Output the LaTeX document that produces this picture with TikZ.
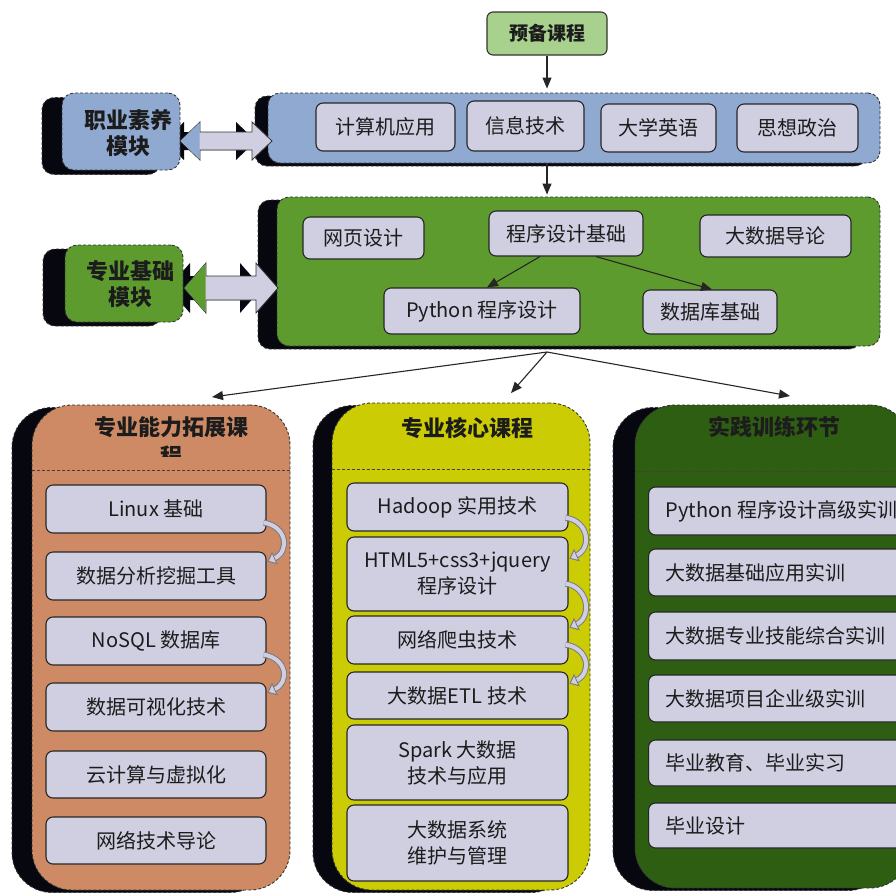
\documentclass[tikz,border=0pt]{standalone}
\usepackage{fontspec}
\setmainfont{Noto Sans CJK SC}
\usetikzlibrary{arrows.meta,calc}
\definecolor{blueM}{HTML}{8FA9D1}
\definecolor{greenM}{HTML}{5E9B2E}
\definecolor{lav}{HTML}{CFCFE1}
\definecolor{orangeM}{HTML}{CD8A64}
\definecolor{yellowM}{HTML}{CCCC05}
\definecolor{dgreenM}{HTML}{2E5E12}
\definecolor{prepc}{HTML}{A9D18E}
\definecolor{shadowc}{HTML}{07070F}
\definecolor{txt}{HTML}{1C1C1C}
\definecolor{curvedge}{HTML}{7A7A80}
\newcommand\dblarrowshape[7]{\path[#7] (#1,#3) -- (#1+#4,#3-#6) -- (#1+#4,#3-#5) -- (#2-#4,#3-#5) -- (#2-#4,#3-#6) -- (#2,#3) -- (#2-#4,#3+#6) -- (#2-#4,#3+#5) -- (#1+#4,#3+#5) -- (#1+#4,#3+#6) -- cycle;}
\begin{document}
\begin{tikzpicture}[x=1pt,y=-1pt,
  box/.style={draw=black!85, line width=1.1pt, fill=lav, rounded corners=7pt, inner sep=2pt, align=center, font=\fontsize{20}{26}\selectfont, text=txt},
  boxL/.style={box, anchor=west, text width=250pt, inner xsep=17pt, align=left, minimum height=48pt},
  mod/.style={draw=black!80, dash pattern=on 3pt off 2pt, line width=0.9pt, rounded corners=12pt, inner sep=0pt},
  shad/.style={mod, fill=shadowc},
  col/.style={mod, rounded corners=40pt},
  colshad/.style={col, fill=shadowc},
  hdr/.style={font=\bfseries\fontsize{22}{26}\selectfont, text=txt, align=center},
  arr/.style={-{Triangle[length=11pt,width=9pt]}, line width=1.1pt, draw=black!85},
  curv/.style={line width=4pt, draw=lav, -{Triangle[length=8pt,width=13pt,fill=lav,color=curvedge,line width=0.8pt]},
     preaction={draw=curvedge, line width=6pt, -{Triangle[length=8pt,width=13pt,color=curvedge]}}},
  divider/.style={draw=black!75, dash pattern=on 3pt off 2pt, line width=0.9pt}
]
\useasboundingbox (0,0) rectangle (896,895);

% ---------- top ----------
\node[draw=black!80, line width=1.1pt, fill=prepc, rounded corners=6pt, minimum width=120pt, minimum height=43pt, font=\bfseries\fontsize{19}{24}\selectfont, text=txt] (prep) at (547,33.5) {预备课程};

% blue module
\node[shad, minimum width=612pt, minimum height=70pt] (blueMs) at (561,131) {};
\node[mod, fill=blueM, minimum width=612pt, minimum height=70pt] (blueM) at (574,128) {};
\node[box, minimum width=139pt, minimum height=48pt] (b1) at (385.5,127) {计算机应用};
\node[box, minimum width=117pt, minimum height=50pt] (b2) at (525.5,126) {信息技术};
\node[box, minimum width=115pt, minimum height=48pt] (b3) at (658.5,128) {大学英语};
\node[box, minimum width=121pt, minimum height=48pt] (b4) at (797.5,128) {思想政治};

% green module
\node[shad, minimum width=603pt, minimum height=149pt] (greenMs) at (559.5,274.5) {};
\node[mod, fill=greenM, minimum width=603pt, minimum height=149pt] (greenM) at (578.5,271.5) {};
\node[box, minimum width=121pt, minimum height=42pt] (g1) at (363.5,238) {网页设计};
\node[box, minimum width=154pt, minimum height=45pt] (g2) at (566,233.5) {程序设计基础};
\node[box, minimum width=151pt, minimum height=42pt] (g3) at (775.5,236) {大数据导论};
\node[box, minimum width=196pt, minimum height=46pt] (g4) at (482,311) {Python 程序设计};
\node[box, minimum width=134pt, minimum height=44pt] (g5) at (710,312) {数据库基础};
\draw[arr] ($(g2.south)+(-26,0)$) -- ($(g4.north)+(5,0)$);
\draw[arr] ($(g2.south)+(30,0)$) -- ($(g5.north)+(2,0)$);

\draw[arr] (prep.south) -- ([yshift=4pt]prep.south |- blueM.north);
\draw[arr] (prep.south |- blueM.south) -- ([yshift=2pt]prep.south |- greenM.north);

% double arrows shadows
\dblarrowshape{164}{256}{141}{20}{9}{19}{fill=shadowc}
\dblarrowshape{168}{262}{288}{22}{12}{25}{fill=shadowc}

% side modules
\node[shad, minimum width=118pt, minimum height=77pt] (zysys) at (101,136) {};
\node[mod, fill=blueM, minimum width=118pt, minimum height=77pt] (zysy) at (121,131.5) {};
\node[hdr] (zysyT) at (128,133) {职业素养\\模块};
\node[shad, minimum width=118pt, minimum height=77pt] (zyjcs) at (102,287.5) {};
\node[mod, fill=greenM, minimum width=118pt, minimum height=77pt] (zyjc) at (124,283.5) {};
\node[hdr] (zyjcT) at (130,284) {专业基础\\模块};

% double arrows
\dblarrowshape{180}{272}{141}{20}{9}{19}{fill=lav, draw=black!80, line width=0.8pt}
\path[fill=blueM] (180.6,141) -- (199.6,122.6) -- (199.6,159.4) -- cycle;
\dblarrowshape{184}{278}{288}{22}{12}{25}{fill=lav, draw=black!80, line width=0.8pt}
\path[fill=greenM] (184.6,288) -- (205.6,263.6) -- (205.6,312.4) -- cycle;

% ---------- three arrows ----------
\coordinate (hub) at (547,352);
\coordinate (t1) at (212,397);
\coordinate (t2) at (511,393);
\coordinate (t3) at (790,396);
\draw[arr] (hub) -- (t1);
\draw[arr] (hub) -- (t2);
\draw[arr] (hub) -- (t3);

% ---------- column 1 ----------
\node[colshad, minimum width=258pt, minimum height=485pt] (c1s) at (141,650) {};
\node[col, fill=orangeM, minimum width=258pt, minimum height=485pt] (c1) at (161,647.5) {};
\begin{scope}
\clip (30,400) rectangle (300,456);
\node[hdr, font=\bfseries\fontsize{22}{29}\selectfont] (c1h) at (171,442) {专业能力拓展课\\程};
\end{scope}
\draw[divider] (c1.west |- 0,470) -- (c1.east |- 0,470);
\node[box, minimum width=220pt, minimum height=48pt] (p1) at (156,509) {Linux 基础};
\node[box, minimum width=220pt, minimum height=48pt] (p2) at (156,576) {数据分析挖掘工具};
\node[box, minimum width=220pt, minimum height=48pt] (p3) at (156,641) {NoSQL 数据库};
\node[box, minimum width=220pt, minimum height=48pt] (p4) at (156,707) {数据可视化技术};
\node[box, minimum width=220pt, minimum height=47pt] (p5) at (156,774.5) {云计算与虚拟化};
\node[box, minimum width=220pt, minimum height=47pt] (p6) at (156,840.5) {网络技术导论};
\draw[curv] ($(p1.south east)+(-3,-11)$) .. controls +(24,4) and +(22,-10) .. ($(p2.north east)+(1,10)$);
\draw[curv] ($(p3.south east)+(-3,-11)$) .. controls +(24,4) and +(22,-10) .. ($(p4.north east)+(1,10)$);

% ---------- column 2 ----------
\node[colshad, minimum width=258pt, minimum height=487pt] (c2s) at (442,649) {};
\node[col, fill=yellowM, minimum width=258pt, minimum height=487pt] (c2) at (461,646.5) {};
\node[hdr] (c2h) at (467,428) {专业核心课程};
\draw[divider] (c2.west |- 0,469) -- (c2.east |- 0,469);
\node[box, minimum width=221pt, minimum height=48pt] (k1) at (457.5,507) {Hadoop 实用技术};
\node[box, minimum width=221pt, minimum height=74pt] (k2) at (457.5,574) {HTML5+css3+jquery\\程序设计};
\node[box, minimum width=221pt, minimum height=48pt] (k3) at (457.5,640) {网络爬虫技术};
\node[box, minimum width=221pt, minimum height=47pt] (k4) at (457.5,695.5) {大数据ETL 技术};
\node[box, minimum width=221pt, minimum height=75pt] (k5) at (457.5,762.5) {Spark 大数据\\技术与应用};
\node[box, minimum width=221pt, minimum height=76pt] (k6) at (457.5,843) {大数据系统\\维护与管理};
\draw[curv] ($(k1.south east)+(-3,-14)$) .. controls +(24,4) and +(22,-10) .. ($(k2.north east)+(1,22)$);
\draw[curv] ($(k2.south east)+(-3,-28)$) .. controls +(24,4) and +(22,-10) .. ($(k3.north east)+(1,12)$);
\draw[curv] ($(k3.south east)+(-3,-20)$) .. controls +(24,4) and +(22,-10) .. ($(k4.north east)+(1,12)$);

% ---------- column 3 ----------
\node[colshad, minimum width=275pt, minimum height=483pt] (c3s) at (750.5,649) {};
\node[col, fill=dgreenM, minimum width=275pt, minimum height=483pt] (c3) at (772.5,646.5) {};
\node[hdr] (c3h) at (774,427) {实践训练环节};
\draw[divider] (c3.west |- 0,471) -- (c3.east |- 0,471);
\node[boxL] (s1) at (648,511) {Python\hspace{5pt}程序设计高级实训};
\node[boxL, minimum height=47pt] (s2) at (648,572.5) {大数据基础应用实训};
\node[boxL] (s3) at (648,636) {大数据专业技能综合实训};
\node[boxL, minimum height=47pt] (s4) at (648,698.5) {大数据项目企业级实训};
\node[boxL, minimum height=46pt] (s5) at (648,763) {毕业教育、毕业实习};
\node[boxL, minimum height=45pt] (s6) at (648,825.5) {毕业设计};
\end{tikzpicture}
\end{document}
